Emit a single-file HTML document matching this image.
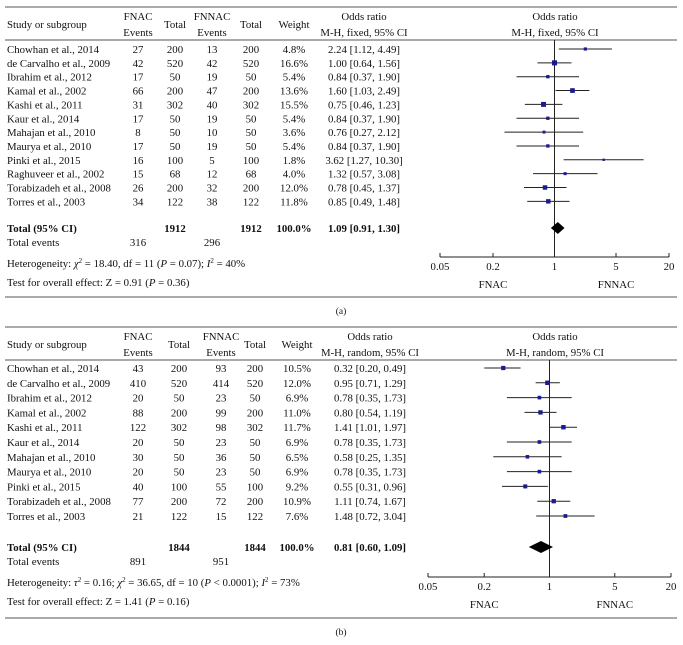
<!DOCTYPE html>
<html><head><meta charset="utf-8"><style>
html,body{margin:0;padding:0;background:#fff;}
svg{display:block;font-family:"Liberation Serif",serif;}
</style></head><body>
<svg id="fig" width="683" height="645" viewBox="0 0 683 645"></svg>
<script>
const studiesA=["Chowhan et al., 2014","de Carvalho et al., 2009","Ibrahim et al., 2012","Kamal et al., 2002","Kashi et al., 2011","Kaur et al., 2014","Mahajan et al., 2010","Maurya et al., 2010","Pinki et al., 2015","Raghuveer et al., 2002","Torabizadeh et al., 2008","Torres et al., 2003"];
const fnacEvA=[27,42,17,66,31,17,8,17,16,15,26,34];
const fnacTotA=[200,520,50,200,302,50,50,50,100,68,200,122];
const fnnacEvA=[13,42,19,47,40,19,10,19,5,12,32,38];
const fnnacTotA=[200,520,50,200,302,50,50,50,100,68,200,122];
const weightA=[4.8,16.6,5.4,13.6,15.5,5.4,3.6,5.4,1.8,4.0,12.0,11.8];
const orA=[2.24,1.00,0.84,1.60,0.75,0.84,0.76,0.84,3.62,1.32,0.78,0.85];
const loA=[1.12,0.64,0.37,1.03,0.46,0.37,0.27,0.37,1.27,0.57,0.45,0.49];
const hiA=[4.49,1.56,1.90,2.49,1.23,1.90,2.12,1.90,10.30,3.08,1.37,1.48];
const totalA=[1.09,0.91,1.30];

const studiesB=["Chowhan et al., 2014","de Carvalho et al., 2009","Ibrahim et al., 2012","Kamal et al., 2002","Kashi et al., 2011","Kaur et al., 2014","Mahajan et al., 2010","Maurya et al., 2010","Pinki et al., 2015","Torabizadeh et al., 2008","Torres et al., 2003"];
const fnacEvB=[43,410,20,88,122,20,30,20,40,77,21];
const fnacTotB=[200,520,50,200,302,50,50,50,100,200,122];
const fnnacEvB=[93,414,23,99,98,23,36,23,55,72,15];
const fnnacTotB=[200,520,50,200,302,50,50,50,100,200,122];
const weightB=[10.5,12.0,6.9,11.0,11.7,6.9,6.5,6.9,9.2,10.9,7.6];
const orB=[0.32,0.95,0.78,0.80,1.41,0.78,0.58,0.78,0.55,1.11,1.48];
const loB=[0.20,0.71,0.35,0.54,1.01,0.35,0.25,0.35,0.31,0.74,0.72];
const hiB=[0.49,1.29,1.73,1.19,1.97,1.73,1.35,1.73,0.96,1.67,3.04];
const totalB=[0.81,0.60,1.09];

const tickVals=[0.05,0.2,1,5,20];
const tickLabels=["0.05","0.2","1","5","20"];

const NS="http://www.w3.org/2000/svg";
const svg=document.getElementById('fig');
function el(tag,attrs,parent){const e=document.createElementNS(NS,tag);for(const k in attrs)e.setAttribute(k,attrs[k]);(parent||svg).appendChild(e);return e;}
function txt(x,y,s,anchor,parent,bold,size){const t=el('text',{x:x,y:y,'text-anchor':anchor||'start','font-size':size||10.8,fill:'#111'},parent);if(bold)t.setAttribute('font-weight','bold');t.textContent=s;return t;}
const f2=v=>v.toFixed(2);

function panel(o){
  const g=el('g',{});
  
  
  const T=o.top;
  el('line',{x1:5,x2:677,y1:T,y2:T,stroke:'#555','stroke-width':1},g);
  el('line',{x1:5,x2:677,y1:T+33,y2:T+33,stroke:'#555','stroke-width':1},g);
  el('line',{x1:5,x2:677,y1:o.bottom,y2:o.bottom,stroke:'#555','stroke-width':1},g);
  const C=o.cols;
  const h=el('g',{},g);
  
  
  txt(7,T+21,'Study or subgroup','start',h);
  txt(C[0],T+13,'FNAC','middle',h);txt(C[0],T+29,'Events','middle',h);
  txt(C[1],T+21,'Total','middle',h);
  txt(C[2],T+13,'FNNAC','middle',h);txt(C[2],T+29,'Events','middle',h);
  txt(C[3],T+21,'Total','middle',h);
  txt(C[4],T+21,'Weight','middle',h);
  txt(C[5],T+13,'Odds ratio','middle',h);txt(C[5],T+29,o.method,'middle',h);
  txt(555,T+13,'Odds ratio','middle',h);txt(555,T+29,o.method,'middle',h);
  const lx=v=>o.ax0+(Math.log10(v)-Math.log10(0.05))/(Math.log10(20)-Math.log10(0.05))*(o.ax1-o.ax0);
  const axY=o.axY;
  el('line',{x1:lx(1),x2:lx(1),y1:T+33,y2:axY,stroke:'#222','stroke-width':1},g);
  el('line',{x1:o.ax0,x2:o.ax1,y1:axY,y2:axY,stroke:'#222','stroke-width':1},g);
  tickVals.forEach((v,i)=>{
    const tk=el('line',{x1:lx(v),x2:lx(v),y1:axY,y2:axY-4,stroke:'#222'},g);
    
    
    const tl=txt(lx(v),axY+13,tickLabels[i],'middle',g);
    
    
  });
  txt(lx(0.2),axY+31,'FNAC','middle',g);
  txt(lx(5),axY+31,'FNNAC','middle',g);
  const d=o.d;
  d.st.forEach((s,i)=>{
    const y=o.r0+i*o.rs;
    const r=el('g',{},g);
    
    
    txt(7,y+4,s,'start',r);
    txt(C[0],y+4,d.fe[i],'middle',r);
    txt(C[1],y+4,d.ft[i],'middle',r);
    txt(C[2],y+4,d.ne[i],'middle',r);
    txt(C[3],y+4,d.nt[i],'middle',r);
    txt(C[4],y+4,d.w[i].toFixed(1)+'%','middle',r);
    txt(C[5],y+4,f2(d.or[i])+' ['+f2(d.lo[i])+', '+f2(d.hi[i])+']','middle',r);
    const ci=el('line',{x1:lx(d.lo[i]),x2:lx(d.hi[i]),y1:y,y2:y,stroke:'#222','stroke-width':1},r);
    
    
    const sz=1+Math.sqrt(d.w[i])*1.0;
    const sq=el('rect',{x:lx(d.or[i])-sz/2,y:y-sz/2,width:sz,height:sz,fill:'#1b1b8f'},r);
    
    
  });
  const ty=o.totY;
  txt(7,ty+4,'Total (95% CI)','start',g,true);
  txt(C[1],ty+4,o.tot,'middle',g,true);
  txt(C[3],ty+4,o.tot,'middle',g,true);
  txt(C[4],ty+4,'100.0%','middle',g,true);
  txt(C[5],ty+4,f2(d.t[0])+' ['+f2(d.t[1])+', '+f2(d.t[2])+']','middle',g,true);
  const dm=el('polygon',{points:`${lx(d.t[1])},${ty} ${lx(d.t[0])},${ty-6} ${lx(d.t[2])},${ty} ${lx(d.t[0])},${ty+6}`,fill:'#000'},g);
  
  
  txt(7,ty+18,'Total events','start',g);
  txt(C[0],ty+18,o.te[0],'middle',g);
  txt(C[2],ty+18,o.te[1],'middle',g);
  const he=txt(7,ty+39,'','start',g);
  he.innerHTML=o.het;
  const te=txt(7,ty+58,'','start',g);
  te.innerHTML='Test for overall effect: Z = '+o.z+' (<tspan font-style="italic">P</tspan> = '+o.p+')';
  const cap=txt(341,o.bottom+17,o.cap,'middle',g,false,9.5);
  
  
}

panel({name:'panel-a-fixed',top:7,bottom:297,axY:257,ax0:440,ax1:669,r0:49,rs:13.85,totY:228,
 cols:[138,175,212,251,294,364],method:'M-H, fixed, 95% CI',tot:'1912',te:['316','296'],
 het:'Heterogeneity: <tspan font-style="italic">χ</tspan><tspan dy="-4" font-size="7">2</tspan><tspan dy="4"> = 18.40, df = 11 (</tspan><tspan font-style="italic">P</tspan> = 0.07); <tspan font-style="italic">I</tspan><tspan dy="-4" font-size="7">2</tspan><tspan dy="4"> = 40%</tspan>',
 z:'0.91',p:'0.36',cap:'(a)',
 d:{st:studiesA,fe:fnacEvA,ft:fnacTotA,ne:fnnacEvA,nt:fnnacTotA,w:weightA,or:orA,lo:loA,hi:hiA,t:totalA}});
panel({name:'panel-b-random',top:327,bottom:618,axY:577,ax0:428,ax1:671,r0:368,rs:14.8,totY:547,
 cols:[138,179,221,255,297,370],method:'M-H, random, 95% CI',tot:'1844',te:['891','951'],
 het:'Heterogeneity: <tspan font-style="italic">τ</tspan><tspan dy="-4" font-size="7">2</tspan><tspan dy="4"> = 0.16; </tspan><tspan font-style="italic">χ</tspan><tspan dy="-4" font-size="7">2</tspan><tspan dy="4"> = 36.65, df = 10 (</tspan><tspan font-style="italic">P</tspan> &lt; 0.0001); <tspan font-style="italic">I</tspan><tspan dy="-4" font-size="7">2</tspan><tspan dy="4"> = 73%</tspan>',
 z:'1.41',p:'0.16',cap:'(b)',
 d:{st:studiesB,fe:fnacEvB,ft:fnacTotB,ne:fnnacEvB,nt:fnnacTotB,w:weightB,or:orB,lo:loB,hi:hiB,t:totalB}});
</script>
</body></html>
